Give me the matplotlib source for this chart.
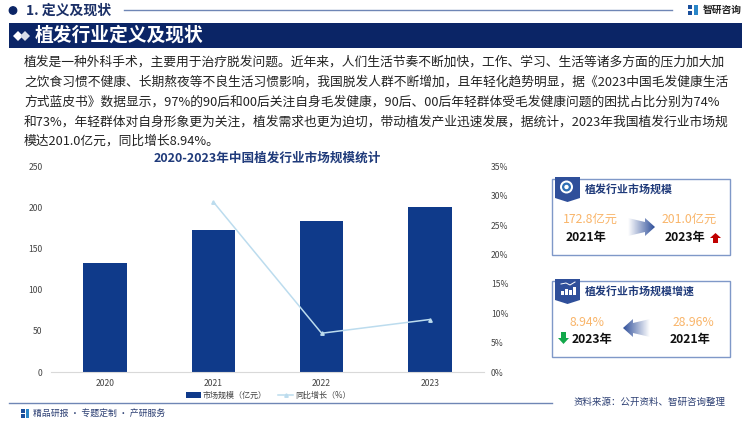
import numpy as np
import matplotlib
matplotlib.use('Agg')
import matplotlib.pyplot as plt
from matplotlib.patches import Rectangle, Polygon, Circle

plt.rcParams['font.family'] = ['Noto Sans CJK SC', 'DejaVu Sans']

years = ['2020', '2021', '2022', '2023']
market = [133.0, 172.8, 184.0, 201.0]
growth = [np.nan, 28.96, 6.6, 8.94]
left_ticks = [0, 50, 100, 150, 200, 250]
right_ticks = [0, 5, 10, 15, 20, 25, 30, 35]

body_lines = [
    '植发是一种外科手术，主要用于治疗脱发问题。近年来，人们生活节奏不断加快，工作、学习、生活等诸多方面的压力加大加',
    '之饮食习惯不健康、长期熬夜等不良生活习惯影响，我国脱发人群不断增加，且年轻化趋势明显，据《2023中国毛发健康生活',
    '方式蓝皮书》数据显示，97%的90后和00后关注自身毛发健康，90后、00后年轻群体受毛发健康问题的困扰占比分别为74%',
    '和73%，年轻群体对自身形象更为关注，植发需求也更为迫切，带动植发产业迅速发展，据统计，2023年我国植发行业市场规',
    '模达201.0亿元，同比增长8.94%。',
]

NAVY = '#0b2566'
BLUE = '#0f3a8a'
LINE = '#6f86b5'
ORANGE = '#f9b56a'
GREY = '#444444'

fig = plt.figure(figsize=(7.5, 4.21), dpi=100)

# background layer in pixel coords
bg = fig.add_axes([0, 0, 1, 1])
bg.set_xlim(0, 750)
bg.set_ylim(421, 0)
bg.axis('off')

# header
bg.add_patch(Circle((13, 10.5), 3.7, color=NAVY))
bg.text(26, 10.5, '1. 定义及现状', fontsize=10, fontweight='bold', color='#1a2f66', va='center')
bg.plot([124, 672], [10, 10], color=LINE, lw=1)
bg.add_patch(Rectangle((9, 23), 733, 25, color=NAVY, lw=0))
bg.add_patch(Polygon([[13, 36], [18, 31], [23, 36], [18, 41]], color='white', lw=0))
bg.add_patch(Polygon([[20, 36], [25, 31], [30, 36], [25, 41]], color='#d8dde8', lw=0))
bg.text(35, 35.5, '植发行业定义及现状', fontsize=13.5, fontweight='bold', color='white', va='center')

# logo
bg.add_patch(Rectangle((688, 5), 4, 4, color='#1b4f9c', lw=0))
bg.add_patch(Rectangle((688, 11), 4, 4, color='#1b4f9c', lw=0))
bg.add_patch(Rectangle((694, 5), 4, 10, color='#2a86c8', lw=0))
bg.text(703, 10, '智研咨询', fontsize=7, fontweight='bold', color='#222222', va='center')

# body text
for line, y in zip(body_lines, [62, 82, 102, 122, 141]):
    bg.text(24, y, line, fontsize=9.2, color='#222222', va='center')

bg.text(267, 158.5, '2020-2023年中国植发行业市场规模统计', fontsize=9.05, fontweight='bold',
        color='#1f3a7a', ha='center', va='center')

# main chart
ax = fig.add_axes([51 / 750, 1 - 372 / 421, 433 / 750, 205.5 / 421])
ax.patch.set_alpha(0)
x = np.arange(len(years))
bars = ax.bar(x, market, width=0.4, color=BLUE, label='市场规模（亿元）')
ax.set_xlim(-0.5, 3.5)
ax.set_ylim(0, 250)
ax.set_xticks(x)
ax.set_xticklabels(years, fontsize=6.2, color=GREY)
ax.set_yticks(left_ticks)
ax.tick_params(axis='y', labelsize=6.2, labelcolor=GREY, length=0, pad=6)
ax.tick_params(axis='x', length=0, pad=5)
for s in ['top', 'left', 'right']:
    ax.spines[s].set_visible(False)
ax.spines['bottom'].set_color('#d9d9d9')
ax.spines['bottom'].set_linewidth(0.8)

ax2 = ax.twinx()
line2, = ax2.plot(x, growth, color='#bcdcee', lw=1.1, marker='^', ms=2.5, label='同比增长（%）')
ax2.set_ylim(0, 35)
ax2.set_yticks(right_ticks)
ax2.set_yticklabels([f'{t}%' for t in right_ticks], fontsize=6.2, color=GREY)
ax2.tick_params(axis='y', length=0, pad=5)
for s in ['top', 'left', 'right', 'bottom']:
    ax2.spines[s].set_visible(False)

fig.legend(handles=[bars, line2], loc='center', bbox_to_anchor=(268 / 750, 1 - 395 / 421), ncol=2,
           frameon=False, prop={'size': 5.8}, labelcolor=GREY, handlelength=1.9, handletextpad=0.2,
           columnspacing=1.4, borderpad=0)

# footer
bg.plot([9, 552], [402.5, 402.5], color=LINE, lw=1)
bg.add_patch(Rectangle((21, 409), 3.5, 3.5, color='#1b4f9c', lw=0))
bg.add_patch(Rectangle((21, 414), 3.5, 3.5, color='#1b4f9c', lw=0))
bg.add_patch(Rectangle((25.5, 409), 3.5, 8.5, color='#2a86c8', lw=0))
bg.text(33, 413, '精品研报 · 专题定制 · 产研服务', fontsize=6.4, color='#2c3f73', va='center')
bg.text(573, 402, '资料来源：公开资料、智研咨询整理', fontsize=6.8, color='#2c3f73', va='center')


def card(y0, y1, title):
    bg.add_patch(Rectangle((552, y0), 178, y1 - y0, fc='white', ec='#7f98c8', lw=1))
    bg.add_patch(Polygon([[555, y0 - 2], [580, y0 - 2], [580, y0 + 19], [567.5, y0 + 23], [555, y0 + 19]],
                         color='#2f4f9a', lw=0, zorder=3))
    bg.text(585, y0 + 10, title, fontsize=7.9, fontweight='bold', color='#1f3a7a', va='center')


def grad_arrow(x0, x1, yc, flip):
    # arrow shape with a white-to-blue fade
    d = 1 if x1 > x0 else -1
    body = x1 - d * 10
    pts = [[x0, yc - 9], [body, yc - 5], [body, yc - 9], [x1, yc], [body, yc + 9], [body, yc + 5], [x0, yc + 9]]
    clip = Polygon(pts, transform=bg.transData, fc='none', ec='none')
    bg.add_patch(clip)
    ramp = np.linspace(0, 1, 64).reshape(1, -1)
    cmap = matplotlib.colors.LinearSegmentedColormap.from_list('g', ['#ffffff', '#2f4f9a'])
    im = bg.imshow(ramp if not flip else ramp[:, ::-1], cmap=cmap, extent=[min(x0, x1), max(x0, x1), yc + 10, yc - 10],
                   aspect='auto', zorder=3)
    im.set_clip_path(clip)
    bg.set_xlim(0, 750)
    bg.set_ylim(421, 0)


# card one
card(179, 255, '植发行业市场规模')
bg.add_patch(Circle((566.5, 187), 6.5, fc='white', ec='none', zorder=4))
bg.add_patch(Circle((566.5, 187), 4.5, fc='#2f6fb5', ec='none', zorder=5))
bg.add_patch(Circle((566.5, 187), 2.2, fc='white', ec='none', zorder=6))
bg.text(590, 219, '172.8亿元', fontsize=8.8, fontweight=500, color=ORANGE, ha='center', va='center')
bg.text(586, 238, '2021年', fontsize=8.8, fontweight='bold', color='#111111', ha='center', va='center')
bg.text(689, 219, '201.0亿元', fontsize=8.8, fontweight=500, color=ORANGE, ha='center', va='center')
bg.text(685, 238, '2023年', fontsize=8.8, fontweight='bold', color='#111111', ha='center', va='center')
grad_arrow(628, 655, 227, False)
bg.add_patch(Polygon([[713, 243], [713, 238], [710, 238], [715.5, 233], [721, 238], [718, 238], [718, 243]],
                     color='#c00000', lw=0))

# card two
card(281, 357, '植发行业市场规模增速')
for bx, bh in zip([561, 565, 569, 573], [4, 6, 5, 8]):
    bg.add_patch(Rectangle((bx, 295 - bh), 2.5, bh, color='white', lw=0, zorder=4))
bg.plot([561, 566, 570, 575], [284, 283, 285, 282], color='white', lw=0.7, zorder=4)
bg.text(587, 322, '8.94%', fontsize=8.8, fontweight=500, color=ORANGE, ha='center', va='center')
bg.text(592, 340, '2023年', fontsize=8.8, fontweight='bold', color='#111111', ha='center', va='center')
bg.text(693, 322, '28.96%', fontsize=8.8, fontweight=500, color=ORANGE, ha='center', va='center')
bg.text(690, 340, '2021年', fontsize=8.8, fontweight='bold', color='#111111', ha='center', va='center')
grad_arrow(650, 623, 328, True)
bg.add_patch(Polygon([[561, 332], [561, 338], [558, 338], [563.5, 344], [569, 338], [566, 338], [566, 332]],
                     color='#12a84a', lw=0))

fig.savefig('out.png', dpi=100)
